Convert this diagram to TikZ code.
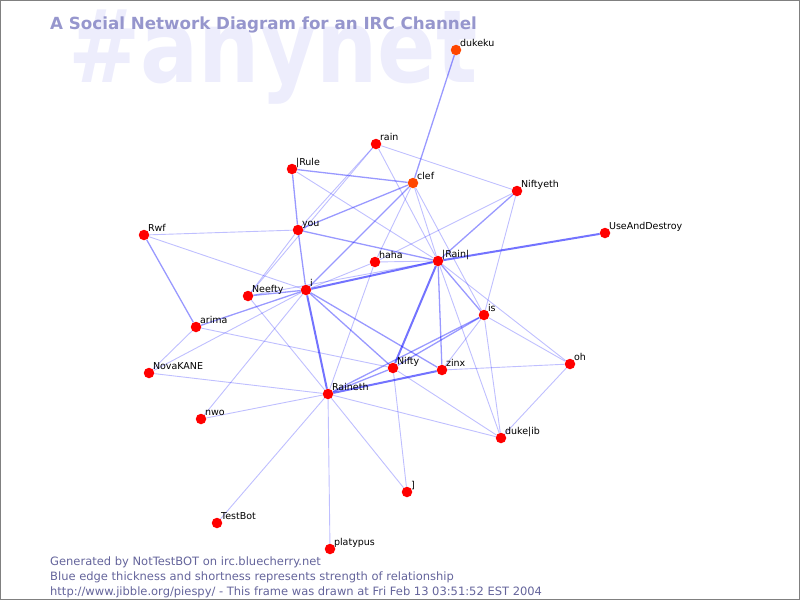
\documentclass[tikz,border=0pt]{standalone}
\usepackage{fontspec}
\setmainfont{DejaVu Sans}
\usetikzlibrary{positioning}
\pgfdeclarelayer{background}
\pgfsetlayers{background,main}
\definecolor{nickred}{RGB}{255,0,0}
\definecolor{opred}{RGB}{255,70,0}
\definecolor{edgeblue}{RGB}{0,0,255}
\definecolor{titleblue}{RGB}{150,150,205}
\definecolor{markblue}{RGB}{237,237,252}
\definecolor{footblue}{RGB}{100,100,155}

\begin{document}
\begin{tikzpicture}[x=1pt,y=-1pt,
	user/.style={circle,fill=nickred,inner sep=0pt,minimum size=10.5pt,label distance=2.5pt},
	op/.style={user,fill=opred},
	nick/.style={font=\fontsize{9.5}{10}\selectfont,inner sep=0pt,anchor=base west},
	weaktie/.style={draw=edgeblue,draw opacity=.25,line width=.9pt},
	midtie/.style={draw=edgeblue,draw opacity=.4,line width=1.3pt},
	strongtie/.style={draw=edgeblue,draw opacity=.55,line width=2pt},
	foot/.style={anchor=base west,inner sep=0pt,text=footblue,font=\fontsize{11.5}{13}\selectfont}]
	\useasboundingbox (0,0) rectangle (800,600);
	\node[op] (dukeku) at (456,50) [label={[nick]45:dukeku}] {};
	\node[user] (rain) at (376,144) [label={[nick]45:rain}] {};
	\node[user] (rule) at (292,169) [label={[nick]45:|Rule}] {};
	\node[op] (clef) at (413,183) [label={[nick]45:clef}] {};
	\node[user] (niftyeth) at (517,191) [label={[nick]45:Niftyeth}] {};
	\node[user] (rwf) at (144,235) [label={[nick]45:Rwf}] {};
	\node[user] (you) at (298,230) [label={[nick]45:you}] {};
	\node[user] (useanddestroy) at (605,233) [label={[nick]45:UseAndDestroy}] {};
	\node[user] (haha) at (375,262) [label={[nick]45:haha}] {};
	\node[user] (barrain) at (438,261) [label={[nick]45:|Rain|}] {};
	\node[user] (neefty) at (248,296) [label={[nick]45:Neefty}] {};
	\node[user] (i) at (306,290) [label={[nick]45:i}] {};
	\node[user] (arima) at (196,327) [label={[nick]45:arima}] {};
	\node[user] (is) at (484,315) [label={[nick]45:is}] {};
	\node[user] (novakane) at (149,373) [label={[nick]45:NovaKANE}] {};
	\node[user] (oh) at (570,364) [label={[nick]45:oh}] {};
	\node[user] (nifty) at (393,368) [label={[nick]45:Nifty}] {};
	\node[user] (zinx) at (442,370) [label={[nick]45:zinx}] {};
	\node[user] (raineth) at (328,394) [label={[nick]45:Raineth}] {};
	\node[user] (nwo) at (201,419) [label={[nick]45:nwo}] {};
	\node[user] (dukelib) at (501,438) [label={[nick]45:duke|ib}] {};
	\node[user] (bracket) at (407,492) [label={[nick]45:{]}}] {};
	\node[user] (testbot) at (217,523) [label={[nick]45:TestBot}] {};
	\node[user] (platypus) at (330,549) [label={[nick]45:platypus}] {};
	\node[anchor=base west,inner sep=0pt,text=titleblue,font=\fontsize{16.7}{18}\selectfont\bfseries] (title) at (50,29) {A Social Network Diagram for an IRC Channel};
	\node[foot] (gen) at (50,565) {Generated by NotTestBOT on irc.bluecherry.net};
	\node[foot] (legend) at (50,580) {Blue edge thickness and shortness represents strength of relationship};
	\node[foot] (stamp) at (50,595) {http://www.jibble.org/piespy/ - This frame was drawn at Fri Feb 13 03:51:52 EST 2004};
	\draw[gray,line width=1pt] (0.5,0.5) rectangle (799.5,599.5);
	\begin{pgfonlayer}{background}
	\node[anchor=base west,inner sep=0pt,text=markblue,font=\fontsize{88}{90}\selectfont\bfseries] (channel) at (68,82) {\scalebox{0.98}[1.15]{\#anynet}};
	\path 
	(i) edge [strongtie] (barrain)
	    edge [strongtie] (raineth)
	    edge [midtie] (arima)
	    edge [midtie] (clef)
	    edge [midtie] (you)
	    edge [midtie] (nifty)
	    edge [midtie] (zinx)
	    edge [midtie] (neefty)
	    edge [weaktie] (haha)
	    edge [weaktie] (rwf)
	    edge [weaktie] (novakane)
	    edge [weaktie] (nwo)
	(barrain) edge [strongtie] (useanddestroy)
	    edge [strongtie] (nifty)
	    edge [midtie] (niftyeth)
	    edge [midtie] (you)
	    edge [midtie] (zinx)
	    edge [midtie] (is)
	    edge [weaktie] (rain)
	    edge [weaktie] (rule)
	    edge [weaktie] (clef)
	    edge [weaktie] (haha)
	    edge [weaktie] (neefty)
	    edge [weaktie] (oh)
	    edge [weaktie] (dukelib)
	(raineth) edge [strongtie] (zinx)
	    edge [midtie] (nifty)
	    edge [midtie] (is)
	    edge [weaktie] (haha)
	    edge [weaktie] (neefty)
	    edge [weaktie] (novakane)
	    edge [weaktie] (nwo)
	    edge [weaktie] (testbot)
	    edge [weaktie] (platypus)
	    edge [weaktie] (bracket)
	    edge [weaktie] (dukelib)
	(clef) edge [midtie] (dukeku)
	    edge [midtie] (rule)
	    edge [midtie] (you)
	    edge [weaktie] (is)
	    edge [weaktie] (haha)
	(rule) edge [midtie] (you)
	(rwf) edge [midtie] (arima)
	    edge [weaktie] (you)
	(rain) edge [weaktie] (niftyeth)
	    edge [weaktie] (you)
	    edge [weaktie] (neefty)
	(niftyeth) edge [weaktie] (haha)
	    edge [weaktie] (is)
	(you) edge [weaktie] (neefty)
	(arima) edge [weaktie] (novakane)
	    edge [weaktie] (nifty)
	(nifty) edge [midtie] (is)
	    edge [weaktie] (bracket)
	    edge [weaktie] (dukelib)
	(is) edge [weaktie] (zinx)
	    edge [weaktie] (oh)
	    edge [weaktie] (dukelib)
	(oh) edge [weaktie] (zinx)
	    edge [weaktie] (dukelib)
	;
	\end{pgfonlayer}
\end{tikzpicture}
\end{document}
